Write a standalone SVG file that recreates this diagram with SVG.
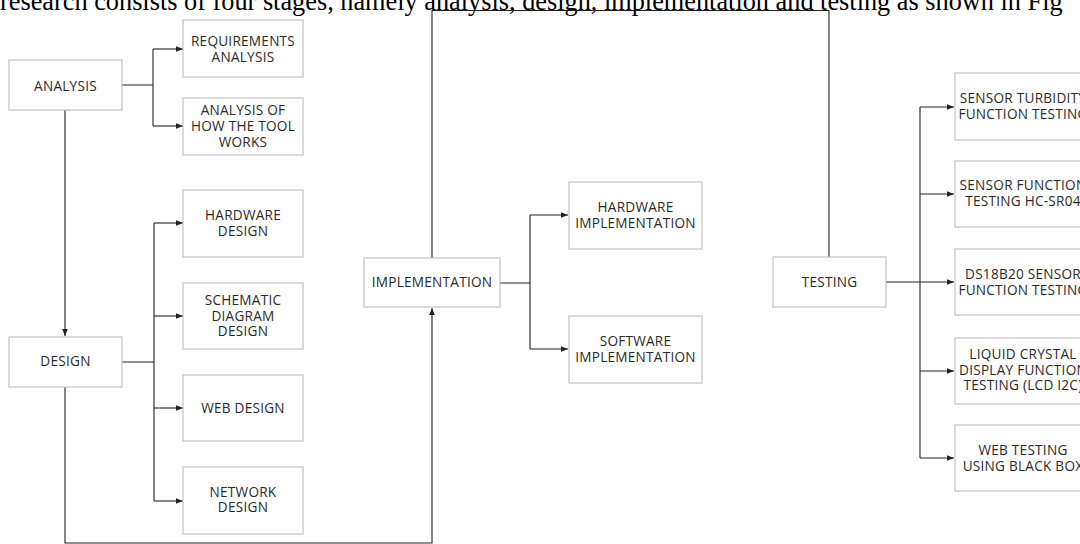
<svg xmlns="http://www.w3.org/2000/svg" width="1080" height="544" viewBox="0 0 1080 544">
<style>
.box{fill:#fff;stroke:#c4c4c4;stroke-width:1.2}
.lbl{font-family:"Open Sans","Liberation Sans",sans-serif;font-size:13.6px;letter-spacing:0.25px;fill:#2a2a2a;text-anchor:middle}
.con{fill:none;stroke:#222;stroke-width:1.1}
.hdr{font-family:"Liberation Serif","Times New Roman",serif;font-size:26.3px;fill:#000}
</style>
<defs>
<marker id="arr" markerWidth="8" markerHeight="8" refX="7" refY="4" orient="auto" markerUnits="userSpaceOnUse">
<path d="M0,1.2 L7,4 L0,6.8 Z" fill="#222"/>
</marker>
</defs>
<rect width="1080" height="544" fill="#fff"/>
<text class="hdr" x="0" y="10">research consists of four stages, namely analysis, design, implementation and testing as shown in Fig</text>

<g id="connectors">
<path class="con" d="M122,85 H153 M153,49 V126"/>
<path class="con" d="M153,49 H183" marker-end="url(#arr)"/>
<path class="con" d="M153,126 H183" marker-end="url(#arr)"/>
<path class="con" d="M65,110 V336" marker-end="url(#arr)"/>
<path class="con" d="M122,362 H154 M154,223 V501"/>
<path class="con" d="M154,223 H183" marker-end="url(#arr)"/>
<path class="con" d="M154,316 H183" marker-end="url(#arr)"/>
<path class="con" d="M154,408 H183" marker-end="url(#arr)"/>
<path class="con" d="M154,501 H183" marker-end="url(#arr)"/>
<path class="con" d="M65,387 V543 H432 V308" marker-end="url(#arr)"/>
<path class="con" d="M432,258 V10.5 H829 V257"/>
<path class="con" d="M500,283 H530 M530,215 V349"/>
<path class="con" d="M530,215 H568" marker-end="url(#arr)"/>
<path class="con" d="M530,349 H568" marker-end="url(#arr)"/>
<path class="con" d="M886,282 H954" marker-end="url(#arr)"/>
<path class="con" d="M920,107 V458"/>
<path class="con" d="M920,107 H954" marker-end="url(#arr)"/>
<path class="con" d="M920,194 H954" marker-end="url(#arr)"/>
<path class="con" d="M920,371 H954" marker-end="url(#arr)"/>
<path class="con" d="M920,458 H954" marker-end="url(#arr)"/>
</g>

<g id="analysis"><rect class="box" x="9" y="60" width="113" height="50"/><text class="lbl" x="65.5" y="90.5">ANALYSIS</text></g>
<g id="req-analysis"><rect class="box" x="183" y="20" width="120" height="57"/><text class="lbl" x="243" y="46">REQUIREMENTS</text><text class="lbl" x="243" y="61.7">ANALYSIS</text></g>
<g id="tool-analysis"><rect class="box" x="183" y="98" width="120" height="57"/><text class="lbl" x="243" y="115">ANALYSIS OF</text><text class="lbl" x="243" y="131">HOW THE TOOL</text><text class="lbl" x="243" y="146.5">WORKS</text></g>

<g id="design"><rect class="box" x="9" y="337" width="113" height="50"/><text class="lbl" x="65.5" y="366">DESIGN</text></g>
<g id="hw-design"><rect class="box" x="183" y="190" width="120" height="67"/><text class="lbl" x="243" y="220">HARDWARE</text><text class="lbl" x="243" y="235.7">DESIGN</text></g>
<g id="schematic-design"><rect class="box" x="183" y="283" width="120" height="66"/><text class="lbl" x="243" y="305">SCHEMATIC</text><text class="lbl" x="243" y="320.7">DIAGRAM</text><text class="lbl" x="243" y="335.7">DESIGN</text></g>
<g id="web-design"><rect class="box" x="183" y="375" width="120" height="66"/><text class="lbl" x="243" y="412.7">WEB DESIGN</text></g>
<g id="network-design"><rect class="box" x="183" y="467" width="120" height="67"/><text class="lbl" x="243" y="496.7">NETWORK</text><text class="lbl" x="243" y="512.3">DESIGN</text></g>

<g id="implementation"><rect class="box" x="364" y="258" width="136" height="49"/><text class="lbl" x="432" y="287.3">IMPLEMENTATION</text></g>
<g id="hw-impl"><rect class="box" x="569" y="182" width="133" height="67"/><text class="lbl" x="635.5" y="211.7">HARDWARE</text><text class="lbl" x="635.5" y="227.7">IMPLEMENTATION</text></g>
<g id="sw-impl"><rect class="box" x="569" y="316" width="133" height="67"/><text class="lbl" x="635.5" y="346">SOFTWARE</text><text class="lbl" x="635.5" y="361.7">IMPLEMENTATION</text></g>

<g id="testing"><rect class="box" x="773" y="257" width="113" height="50"/><text class="lbl" x="829.5" y="286.7">TESTING</text></g>
<g id="turbidity"><rect class="box" x="955" y="73" width="136" height="67"/><text class="lbl" x="1023" y="103.3">SENSOR TURBIDITY</text><text class="lbl" x="1023" y="119">FUNCTION TESTING</text></g>
<g id="hcsr04"><rect class="box" x="955" y="161" width="136" height="66"/><text class="lbl" x="1023" y="190">SENSOR FUNCTION</text><text class="lbl" x="1023" y="206">TESTING HC-SR04</text></g>
<g id="ds18b20"><rect class="box" x="955" y="249" width="136" height="66"/><text class="lbl" x="1023" y="279">DS18B20 SENSOR</text><text class="lbl" x="1023" y="295">FUNCTION TESTING</text></g>
<g id="lcd"><rect class="box" x="955" y="338" width="136" height="66"/><text class="lbl" x="1023" y="359">LIQUID CRYSTAL</text><text class="lbl" x="1023" y="375">DISPLAY FUNCTION</text><text class="lbl" x="1023" y="390">TESTING (LCD I2C)</text></g>
<g id="web-testing"><rect class="box" x="955" y="425" width="136" height="66"/><text class="lbl" x="1023" y="455">WEB TESTING</text><text class="lbl" x="1023" y="470.7">USING BLACK BOX</text></g>
</svg>
